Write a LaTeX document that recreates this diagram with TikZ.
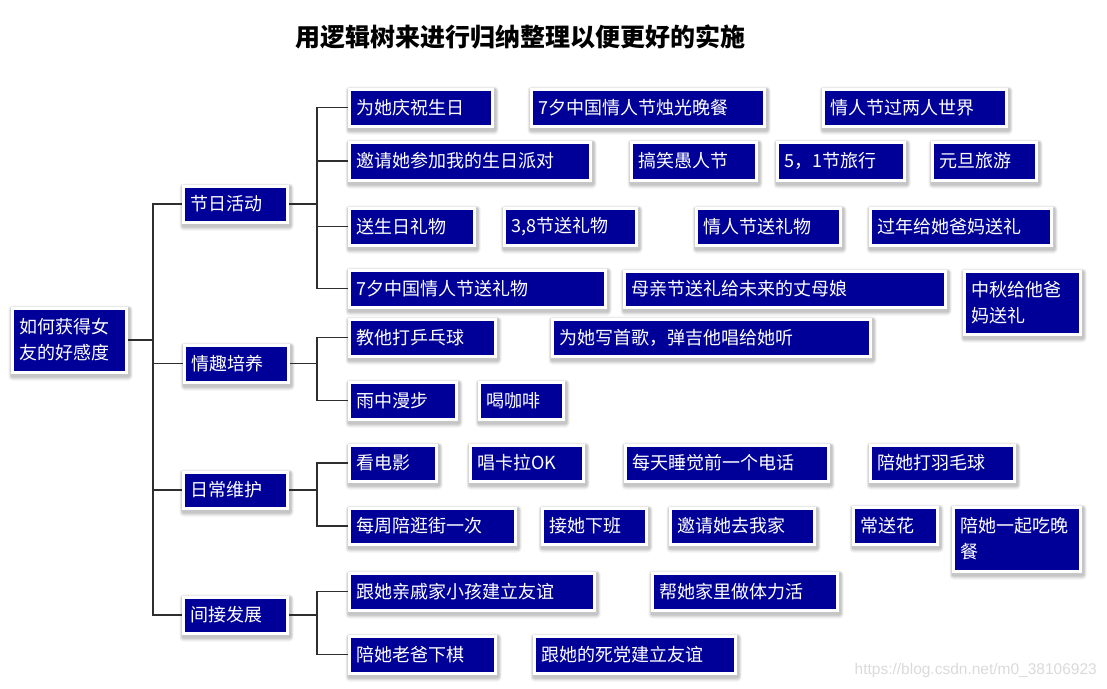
\documentclass[tikz,border=0pt]{standalone}
\usepackage{fontspec}
\setmainfont{Noto Sans CJK SC}
\newfontfamily\wmfont{Liberation Sans}
\definecolor{boxblue}{HTML}{000099}
\definecolor{linegray}{HTML}{2E2E2E}
\definecolor{wmgray}{HTML}{DADADA}
\pgfdeclarelayer{bg}
\pgfdeclarelayer{shade}
\pgfsetlayers{shade,bg,main}
\colorlet{shadowtone}{black}
\newcommand\bx[6]{%
  \pgfmathsetmacro\bw{#4-#2+3}%
  \pgfmathsetmacro\bh{#5-#3+3}%
  \pgfmathsetmacro\tw{\bw-15}%
  \node[box, minimum width=\bw pt, minimum height=\bh pt, text width=\tw pt, anchor=north west] (#1) at (#2-1.5,#3-1.5) {#6};
  \begin{pgfonlayer}{shade}
    \fill[shadowtone, opacity=0.06, rounded corners=4pt] ([shift={(-2,-1)}]#1.north west) rectangle ([shift={(5,7)}]#1.south east);
    \fill[shadowtone, opacity=0.08, rounded corners=3pt] ([shift={(-1,0)}]#1.north west) rectangle ([shift={(4,5.5)}]#1.south east);
    \fill[shadowtone, opacity=0.10, rounded corners=2pt] ([shift={(0,1)}]#1.north west) rectangle ([shift={(3,4)}]#1.south east);
  \end{pgfonlayer}}
\begin{document}
\begin{tikzpicture}[x=1pt,y=-1pt,
  box/.style={fill=boxblue, draw=white, line width=3pt, text=white, align=left,
    inner xsep=7.5pt, inner ysep=0pt, font=\fontsize{18}{26}\selectfont},
  conn/.style={draw=linegray, line width=1.1pt}]
\useasboundingbox (0,0) rectangle (1107,688);
\node[font=\fontsize{25}{30}\selectfont\bfseries, inner sep=0pt] (title) at (520,37) {用逻辑树来进行归纳整理以便更好的实施};
% root
\bx{root}{12}{308}{123}{369}{如何获得女\\友的好感度}
% level 1
\bx{a}{183}{186}{284}{219}{节日活动}
\bx{b}{184}{345}{285}{379}{情趣培养}
\bx{c}{183}{472}{284}{505}{日常维护}
\bx{d}{183}{597}{284}{630}{间接发展}
% group a
\bx{a1}{349}{89}{489}{123}{为她庆祝生日}
\bx{a2}{531}{89}{761}{123}{7夕中国情人节烛光晚餐}
\bx{a3}{823}{89}{1003}{123}{情人节过两人世界}
\bx{a4}{349}{142}{587}{177}{邀请她参加我的生日派对}
\bx{a5}{631}{142}{753}{177}{搞笑愚人节}
\bx{a6}{777}{142}{901}{177}{5，1节旅行}
\bx{a7}{932}{142}{1033}{177}{元旦旅游}
\bx{a8}{349}{208}{471}{242}{送生日礼物}
\bx{a9}{504}{208}{633}{242}{3,8节送礼物}
\bx{a10}{696}{208}{837}{242}{情人节送礼物}
\bx{a11}{870}{208}{1048}{242}{过年给她爸妈送礼}
\bx{a12}{349}{270}{602}{304}{7夕中国情人节送礼物}
\bx{a13}{624}{271}{942}{304}{母亲节送礼给未来的丈母娘}
\bx{a14}{964}{271}{1077}{331}{中秋给他爸\\妈送礼}
% group b
\bx{b1}{349}{319}{492}{353}{教他打乒乓球}
\bx{b2}{552}{319}{867}{353}{为她写首歌，弹吉他唱给她听}
\bx{b3}{349}{382}{453}{416}{雨中漫步}
\bx{b4}{479}{382}{560}{416}{喝咖啡}
% group c
\bx{c1}{349}{445}{433}{478}{看电影}
\bx{c2}{470}{445}{580}{478}{唱卡拉OK}
\bx{c3}{625}{445}{825}{478}{每天睡觉前一个电话}
\bx{c4}{870}{445}{1011}{478}{陪她打羽毛球}
\bx{c5}{349}{508}{512}{541}{每周陪逛街一次}
\bx{c6}{542}{508}{643}{541}{接她下班}
\bx{c7}{670}{508}{811}{541}{邀请她去我家}
\bx{c8}{853}{507}{934}{541}{常送花}
\bx{c9}{953}{507}{1077}{568}{陪她一起吃晚\\餐}
% group d
\bx{d1}{349}{573}{591}{607}{跟她亲戚家小孩建立友谊}
\bx{d2}{652}{573}{834}{607}{帮她家里做体力活}
\bx{d3}{349}{636}{492}{670}{陪她老爸下棋}
\bx{d4}{534}{636}{732}{670}{跟她的死党建立友谊}
% watermark
\node[font=\wmfont\fontsize{15.5}{18}\selectfont, text=wmgray, anchor=east, inner sep=0pt] (wm) at (1097,670) {https://blog.csdn.net/m0\_38106923};
% connectors
\coordinate (t0) at (153,0);
\coordinate (t1) at (317,0);
\begin{pgfonlayer}{bg}
\foreach \k in {a,b,c,d}{
  \draw[conn] (root.east) -- (root.east -| t0) |- (\k.west);
}
\foreach \k in {a1,a4,a8,a12}{
  \draw[conn] (a.east) -- (a.east -| t1) |- (\k.west);
}
\foreach \k in {b1,b3}{
  \draw[conn] (b.east) -- (b.east -| t1) |- (\k.west);
}
\foreach \k in {c1,c5}{
  \draw[conn] (c.east) -- (c.east -| t1) |- (\k.west);
}
\foreach \k in {d1,d3}{
  \draw[conn] (d.east) -- (d.east -| t1) |- (\k.west);
}
\end{pgfonlayer}
\end{tikzpicture}
\end{document}
